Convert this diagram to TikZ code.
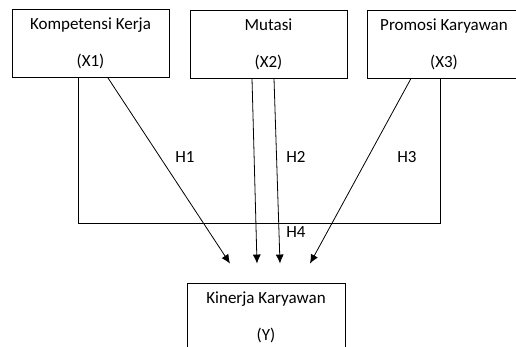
\documentclass[tikz,border=0pt]{standalone}
\usepackage{fontspec}
\setmainfont{Carlito}
\usetikzlibrary{arrows.meta,calc}
\begin{document}
\begin{tikzpicture}[x=1pt,y=1pt,
  box/.style={draw,line width=0.9pt,minimum height=68pt,inner sep=0pt,align=center,
    font=\fontsize{17}{37}\selectfont},
  conn/.style={line width=0.8pt},
  arr/.style={conn,-{Latex[length=9pt,width=8pt]}},
  lbl/.style={font=\fontsize{17}{20}\selectfont,inner sep=0pt}]
\useasboundingbox (0,0) rectangle (516,-346);
\clip (0,0) rectangle (516,-346);
\node[box,minimum width=157pt] (b1) at (90.5,-43.5) {Kompetensi Kerja\\(X1)};
\node[box,minimum width=157pt] (b2) at (268.5,-44) {Mutasi\\(X2)};
\node[box,minimum width=154pt] (b3) at (444,-44) {Promosi Karyawan\\(X3)};
\node[box,minimum width=158pt,minimum height=69pt] (y) at (266,-317.5) {Kinerja Karyawan\\(Y)};
\coordinate (e1) at ([xshift=-36pt,yshift=19pt]y.north);
\coordinate (e2) at ([xshift=-9pt,yshift=19pt]y.north);
\coordinate (e3) at ([xshift=14pt,yshift=19pt]y.north);
\coordinate (e4) at ([xshift=44pt,yshift=19pt]y.north);
\draw[conn] ([xshift=-12.5pt]b1.south) -- ++(0,-145) -| ([xshift=-4pt]b3.south);
\draw[arr] ([xshift=17.5pt]b1.south) -- (e1);
\draw[arr] ([xshift=-16.5pt]b2.south) -- (e2);
\draw[arr] ([xshift=5.5pt]b2.south) -- (e3);
\draw[arr] ([xshift=-33pt]b3.south) -- (e4);
\node[lbl] (h1) at (185,-157) {H1};
\node[lbl] (h2) at (296,-157) {H2};
\node[lbl] (h3) at (407,-157) {H3};
\node[lbl] (h4) at (296,-232) {H4};
\end{tikzpicture}
\end{document}
